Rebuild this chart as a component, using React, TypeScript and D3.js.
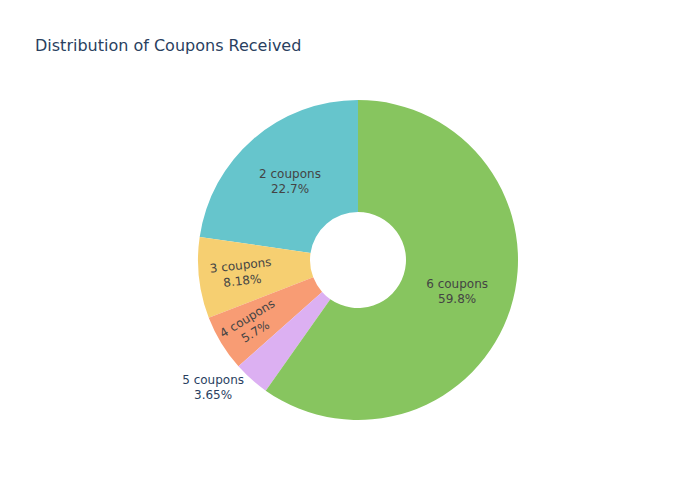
import React, { useEffect, useRef } from "react";
import * as d3 from "d3";

const categories = ["2 coupons", "3 coupons", "4 coupons", "5 coupons", "6 coupons"];
const values = [22.7, 8.18, 5.7, 3.65, 59.8];
const colors = ["#66C5CC", "#F6CF71", "#F89C74", "#DCB0F2", "#87C55F"];
const title = "Distribution of Coupons Received";

const W = 700;
const H = 500;
const CX = 358;
const CY = 260;
const R = 160;
const HOLE = 0.3;
const TEXTPAD = 3;
const FONT = "'DejaVu Sans', Verdana, Arial, sans-serif";

function fmtPct(p: number): string {
  const s = d3.format(".3~g")(p * 100);
  return s + "%";
}

function normRot(deg: number): number {
  return ((deg % 180) + 180 + 90) % 180 - 90;
}

function calcMaxHalfSize(a: number, halfAngle: number, r: number, ring: number) {
  const q = a + 1 / (2 * Math.tan(halfAngle));
  return r * Math.min(
    1 / (Math.sqrt(q * q + 0.5) + q),
    ring / (Math.sqrt(a * a + ring / 2) + a)
  );
}
function calcRCenter(a: number, b: number) {
  return Math.cos(b) - a * b;
}

export default function App() {
  const ref = useRef<SVGSVGElement | null>(null);

  useEffect(() => {
    const svg = d3.select(ref.current);
    svg.selectAll("*").remove();

    svg.append("rect").attr("width", W).attr("height", H).attr("fill", "#fff");

    svg
      .append("text")
      .attr("x", 35)
      .attr("y", 50.7)
      .attr("font-family", FONT)
      .attr("font-size", 16)
      .attr("fill", "#2a3f5f")
      .text(title);

    const total = d3.sum(values);
    const pie = d3
      .pie<number>()
      .sort(null)
      .value((d) => d)
      .startAngle(0)
      .endAngle(-2 * Math.PI);
    const arcs = pie(values);
    const arc = d3
      .arc<d3.PieArcDatum<number>>()
      .innerRadius(R * HOLE)
      .outerRadius(R);

    const g = svg.append("g").attr("transform", `translate(${CX},${CY})`);
    g.selectAll("path")
      .data(arcs)
      .join("path")
      .attr("d", arc)
      .attr("fill", (_d, i) => colors[i]);

    const ring = 1 - HOLE;
    const tg = svg.append("g");

    arcs.forEach((a, i) => {
      const pct = values[i] / total;
      const lines = [categories[i], fmtPct(pct)];
      const t = tg
        .append("text")
        .attr("font-family", FONT)
        .attr("font-size", 12)
        .attr("fill", "#444")
        .attr("text-anchor", "middle");
      lines.forEach((ln, k) => {
        t.append("tspan")
          .attr("x", 0)
          .attr("dy", k === 0 ? "0em" : "1.3em")
          .text(ln);
      });
      const bb = (t.node() as SVGTextElement).getBBox();
      const bw = bb.width;
      const bh = bb.height;
      const bcx = bb.x + bw / 2;
      const bcy = bb.y + bh / 2;

      const mid = (a.startAngle + a.endAngle) / 2;
      const half = Math.abs(a.endAngle - a.startAngle) / 2;
      const pxmid = [R * Math.sin(mid), -R * Math.cos(mid)];
      const phi = (Math.atan2(pxmid[1], pxmid[0]) * 180) / Math.PI;

      const rIns = Math.min(1 / (1 + 1 / Math.sin(half)), ring / 2);
      const diag = Math.sqrt(bw * bw + bh * bh);
      const hT = { scale: (rIns * R * 2) / diag, rCenter: 1 - rIns, rotate: 0 };
      let chosen = hT;
      if (hT.scale < 1) {
        const rr = Math.max(0, R - 2 * TEXTPAD);
        const aR = bw / bh;
        const sR = calcMaxHalfSize(aR, half, rr, ring);
        const radT = { scale: (sR * 2) / bh, rCenter: calcRCenter(aR, sR / rr), rotate: normRot(phi) };
        const aT = bh / bw;
        const sT = calcMaxHalfSize(aT, half, rr, ring);
        const tanT = { scale: (sT * 2) / bw, rCenter: calcRCenter(aT, sT / rr), rotate: normRot(phi + 90) };
        let best = hT;
        [hT, radT, tanT].forEach((tr) => {
          if (tr.scale > best.scale) best = tr;
        });
        chosen = best;
      }

      if (chosen.scale < 1) {
        t.attr("fill", "#2a3f5f");
        let dx = bw / 2;
        let dy = bh / 2;
        if (pxmid[0] < 0) dx *= -1;
        if (pxmid[1] < 0) dy *= -1;
        const ox = dx + (Math.abs(dy) * (dx > 0 ? 1 : -1)) / 2;
        const oy = dy / (1 + (pxmid[0] * pxmid[0]) / (pxmid[1] * pxmid[1]));
        const tx = CX + pxmid[0] + ox;
        const ty = CY + pxmid[1] + oy;
        t.attr("transform", `translate(${tx},${ty}) translate(${-bcx},${-bcy})`);
      } else {
        const tx = CX + pxmid[0] * chosen.rCenter;
        const ty = CY + pxmid[1] * chosen.rCenter;
        t.attr(
          "transform",
          `translate(${tx},${ty}) rotate(${chosen.rotate}) translate(${-bcx},${-bcy})`
        );
      }
    });
  }, []);

  return (
    <svg
      ref={ref}
      width={W}
      height={H}
      style={{ display: "block", position: "absolute", left: 0, top: 0 }}
    />
  );
}
